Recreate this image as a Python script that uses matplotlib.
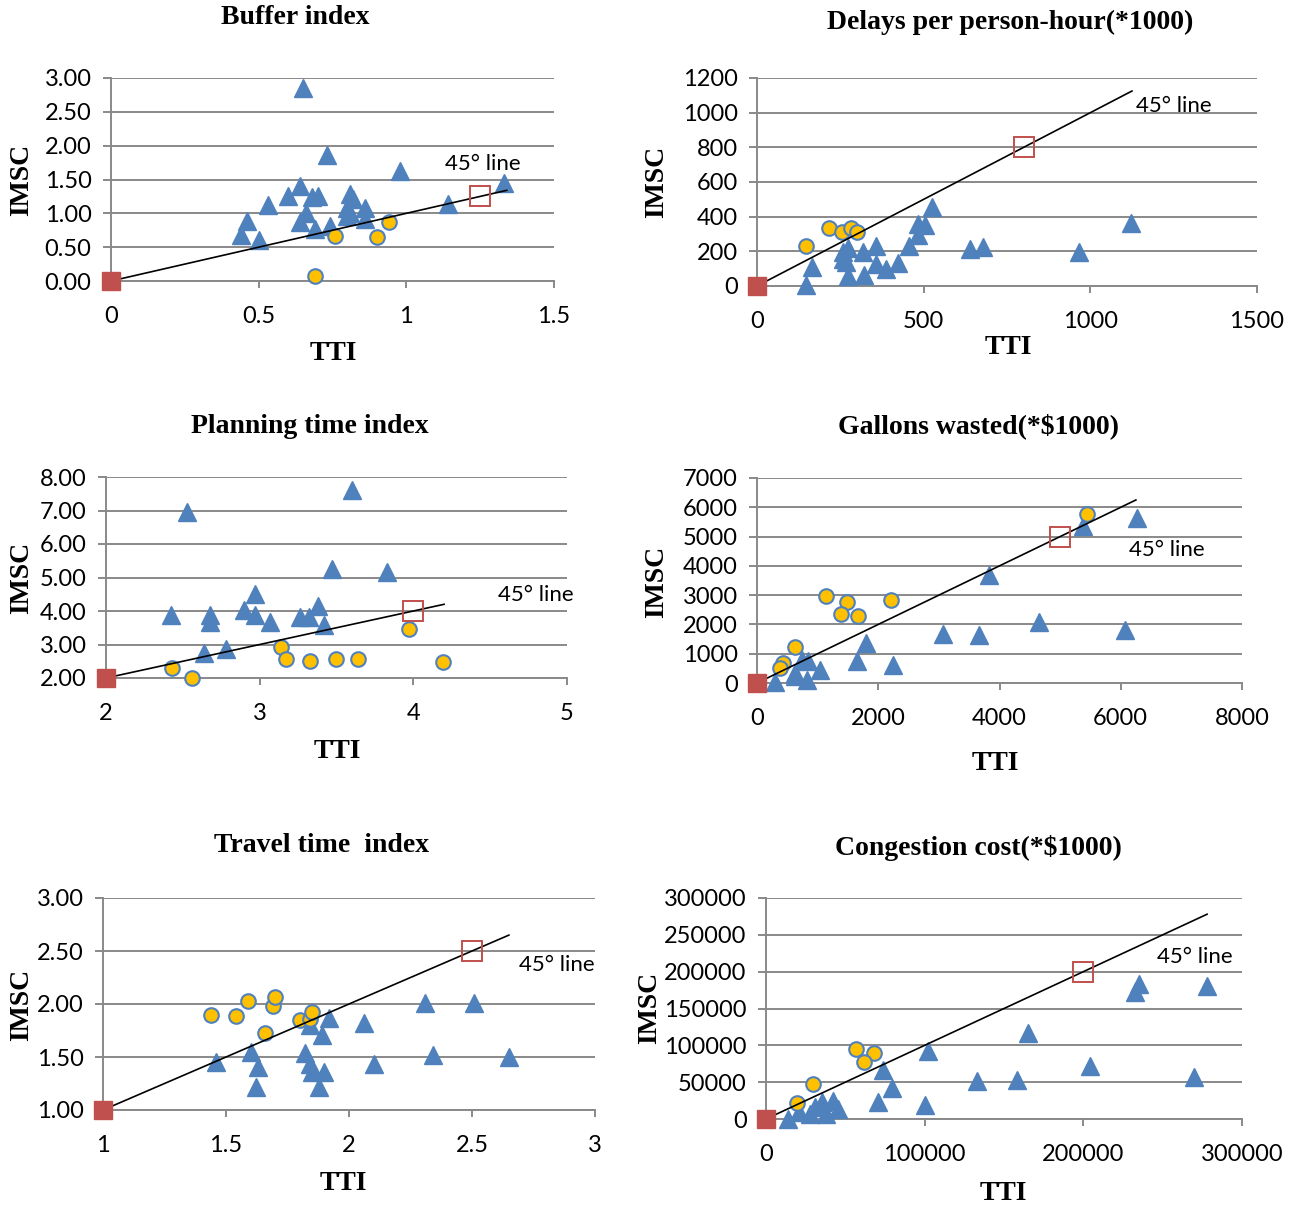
import matplotlib
matplotlib.use('Agg')
import matplotlib.pyplot as plt
from matplotlib.ticker import FuncFormatter

W, H = 1297, 1207

# ---- Buffer index
buffer_tri_x = [0.65, 0.73, 0.98, 1.33, 1.14, 0.64, 0.60, 0.68, 0.70, 0.53, 0.81, 0.82,
                0.86, 0.80, 0.80, 0.86, 0.66, 0.64, 0.74, 0.69, 0.46, 0.44, 0.50, 0.81]
buffer_tri_y = [2.85, 1.86, 1.62, 1.45, 1.14, 1.40, 1.25, 1.24, 1.26, 1.13, 1.28, 1.21,
                1.08, 1.08, 0.96, 0.91, 1.01, 0.87, 0.81, 0.77, 0.88, 0.68, 0.61, 1.00]
buffer_circ_x = [0.76, 0.90, 0.94, 0.69]
buffer_circ_y = [0.67, 0.65, 0.87, 0.08]

# ---- Delays per person-hour
delay_tri_x = [147, 164, 1123, 965, 679, 639, 525, 484, 503, 484, 457, 424, 387, 358,
               356, 318, 321, 273, 258, 267, 273, 258]
delay_tri_y = [4, 110, 365, 195, 226, 216, 457, 357, 351, 293, 230, 133, 100, 129,
               230, 197, 62, 222, 197, 139, 56, 158]
delay_circ_x = [147, 215, 254, 283, 299]
delay_circ_y = [230, 336, 309, 332, 313]

# ---- Planning time index
plan_tri_x = [2.53, 3.60, 3.47, 3.83, 2.97, 2.90, 2.97, 2.42, 2.68, 2.68, 3.07, 3.26,
              3.32, 3.38, 3.42, 2.64, 2.78]
plan_tri_y = [6.97, 7.62, 5.25, 5.17, 4.52, 4.03, 3.88, 3.88, 3.88, 3.68, 3.68, 3.83,
              3.83, 4.15, 3.58, 2.75, 2.88]
plan_circ_x = [2.43, 2.56, 3.14, 3.17, 3.33, 3.50, 3.64, 3.97, 4.19]
plan_circ_y = [2.31, 2.00, 2.93, 2.58, 2.50, 2.57, 2.57, 3.47, 2.48]

# ---- Gallons wasted
gallon_tri_x = [5383, 6260, 3830, 4658, 6066, 3071, 3658, 1794, 1656, 2250, 1035, 842,
                738, 635, 828, 621, 290]
gallon_tri_y = [5350, 5634, 3700, 2071, 1821, 1673, 1650, 1366, 762, 626, 455, 740,
                774, 341, 114, 228, 20]
gallon_circ_x = [5438, 1139, 1477, 1380, 1670, 2208, 635, 428, 380]
gallon_circ_y = [5782, 2959, 2777, 2367, 2276, 2823, 1218, 683, 500]

# ---- Travel time index
travel_tri_x = [1.46, 1.60, 1.63, 1.62, 1.82, 1.84, 1.85, 1.88, 1.90, 1.84, 1.89, 1.92,
                2.06, 2.10, 2.31, 2.51, 2.34, 2.65]
travel_tri_y = [1.45, 1.55, 1.41, 1.22, 1.54, 1.43, 1.36, 1.22, 1.36, 1.80, 1.71, 1.87,
                1.82, 1.43, 2.01, 2.01, 1.52, 1.50]
travel_circ_x = [1.44, 1.54, 1.59, 1.69, 1.70, 1.66, 1.80, 1.84, 1.85]
travel_circ_y = [1.90, 1.89, 2.03, 1.98, 2.07, 1.73, 1.85, 1.86, 1.92]

# ---- Congestion cost
cost_tri_x = [234900, 232700, 277900, 164900, 102200, 203900, 269800, 133200, 158200,
              74000, 79100, 70800, 100300, 42500, 45200, 37700, 35000, 30900, 27700,
              21000, 13700]
cost_tri_y = [182600, 172100, 180300, 116400, 92700, 71700, 57100, 51100, 52500,
              67100, 42500, 22800, 19600, 25100, 13700, 6800, 22800, 16000, 6800,
              9100, 0]
cost_circ_x = [57000, 68300, 61900, 29600, 19600]
cost_circ_y = [95400, 89000, 76700, 47900, 21500]

BLUE = '#4F81BD'
GOLD = '#FFC000'
RED = '#C0504D'
GREY = '#898989'
TICK_FONT = 'Lato'
SERIF = 'Liberation Serif'


def fx(px):
    return px / W


def fy(py):
    return 1 - py / H


def make_panel(fig, box, title, title_xy, tti_xy, imsc_xy,
               tri_x, tri_y, circ_x, circ_y, origin, target, line_end,
               xlim, ylim, xticks, yticks, ydec, note_xy):
    left, top, right, bottom = box
    ax = fig.add_axes([fx(left), fy(bottom), fx(right) - fx(left), fy(top) - fy(bottom)])
    ax.set_xlim(*xlim)
    ax.set_ylim(*ylim)
    ax.set_xticks(xticks)
    ax.set_yticks(yticks)
    ax.xaxis.set_major_formatter(FuncFormatter(lambda v, p: '%g' % v))
    if ydec:
        ax.yaxis.set_major_formatter(FuncFormatter(lambda v, p: '%.2f' % v))
    else:
        ax.yaxis.set_major_formatter(FuncFormatter(lambda v, p: '%d' % v))
    for s in ['top', 'right']:
        ax.spines[s].set_visible(False)
    for s in ['left', 'bottom']:
        ax.spines[s].set_color(GREY)
        ax.spines[s].set_linewidth(1.4)
    ax.yaxis.grid(True, color=GREY, lw=1.4)
    ax.set_axisbelow(True)
    ax.tick_params(axis='y', length=6, width=1.4, color=GREY, pad=8)
    ax.tick_params(axis='x', length=5, width=1.4, color=GREY, pad=13)
    for lab in ax.get_xticklabels() + ax.get_yticklabels():
        lab.set_fontfamily(TICK_FONT)
        lab.set_fontsize(17)

    ax.plot(tri_x, tri_y, '^', ms=13.5, color=BLUE, mec=BLUE, clip_on=False, zorder=3)
    ax.plot(circ_x, circ_y, 'o', ms=10.5, mfc=GOLD, mec=BLUE, mew=1.5, clip_on=False, zorder=4)
    ax.plot([origin, line_end], [origin, line_end], color='black', lw=1.2, zorder=5)
    ax.plot([origin], [origin], 's', ms=13, color=RED, clip_on=False, zorder=6)
    ax.plot([target], [target], 's', ms=14, mfc='none', mec=RED, mew=1.4, clip_on=False, zorder=6)
    ax.text(note_xy[0], note_xy[1], '45° line', fontfamily=TICK_FONT, fontsize=16,
            ha='left', va='center', zorder=7)

    fig.text(fx(title_xy[0]), fy(title_xy[1]), title, fontfamily=SERIF, fontweight='bold',
             fontsize=20, ha='center', va='center')
    fig.text(fx(tti_xy[0]), fy(tti_xy[1]), 'TTI', fontfamily=SERIF, fontweight='bold',
             fontsize=20, ha='center', va='center')
    fig.text(fx(imsc_xy[0]), fy(imsc_xy[1]), 'IMSC', fontfamily=SERIF, fontweight='bold',
             fontsize=20, ha='center', va='center', rotation=90)
    return ax


fig = plt.figure(figsize=(W / 100, H / 100), dpi=100)

make_panel(fig, (111, 78, 554, 281), 'Buffer index', (295, 17), (333, 354), (22, 180),
           buffer_tri_x, buffer_tri_y, buffer_circ_x, buffer_circ_y, 0, 1.25, 1.34,
           (0, 1.5), (0, 3), [0, 0.5, 1, 1.5], [0, 0.5, 1, 1.5, 2, 2.5, 3], True,
           (1.13, 1.73))

make_panel(fig, (757, 78, 1257, 286), 'Delays per person-hour(*1000)', (1010, 22),
           (1008, 348), (657, 182),
           delay_tri_x, delay_tri_y, delay_circ_x, delay_circ_y, 0, 800, 1125,
           (0, 1500), (0, 1200), [0, 500, 1000, 1500], list(range(0, 1201, 200)), False,
           (1137, 1038))

make_panel(fig, (106, 477, 567, 678), 'Planning time index', (310, 426), (337, 752),
           (22, 578),
           plan_tri_x, plan_tri_y, plan_circ_x, plan_circ_y, 2, 4, 4.2,
           (2, 5), (2, 8), [2, 3, 4, 5], [2, 3, 4, 5, 6, 7, 8], True,
           (4.55, 4.48))

make_panel(fig, (757, 478, 1242, 683), 'Gallons wasted(*$1000)', (978, 426), (995, 763),
           (657, 582),
           gallon_tri_x, gallon_tri_y, gallon_circ_x, gallon_circ_y, 0, 5000, 6250,
           (0, 8000), (0, 7000), [0, 2000, 4000, 6000, 8000], list(range(0, 7001, 1000)),
           False, (6136, 4540))

make_panel(fig, (103, 898, 595, 1110), 'Travel time  index', (322, 846), (343, 1184),
           (22, 1005),
           travel_tri_x, travel_tri_y, travel_circ_x, travel_circ_y, 1, 2.5, 2.65,
           (1, 3), (1, 3), [1, 1.5, 2, 2.5, 3], [1, 1.5, 2, 2.5, 3], True,
           (2.69, 2.37))

make_panel(fig, (766, 898, 1242, 1119), 'Congestion cost(*$1000)', (978, 848),
           (1003, 1193), (650, 1008),
           cost_tri_x, cost_tri_y, cost_circ_x, cost_circ_y, 0, 200000, 278000,
           (0, 300000), (0, 300000), [0, 100000, 200000, 300000],
           list(range(0, 300001, 50000)), False, (246400, 220000))

fig.savefig('out.png', dpi=100, facecolor='white')
